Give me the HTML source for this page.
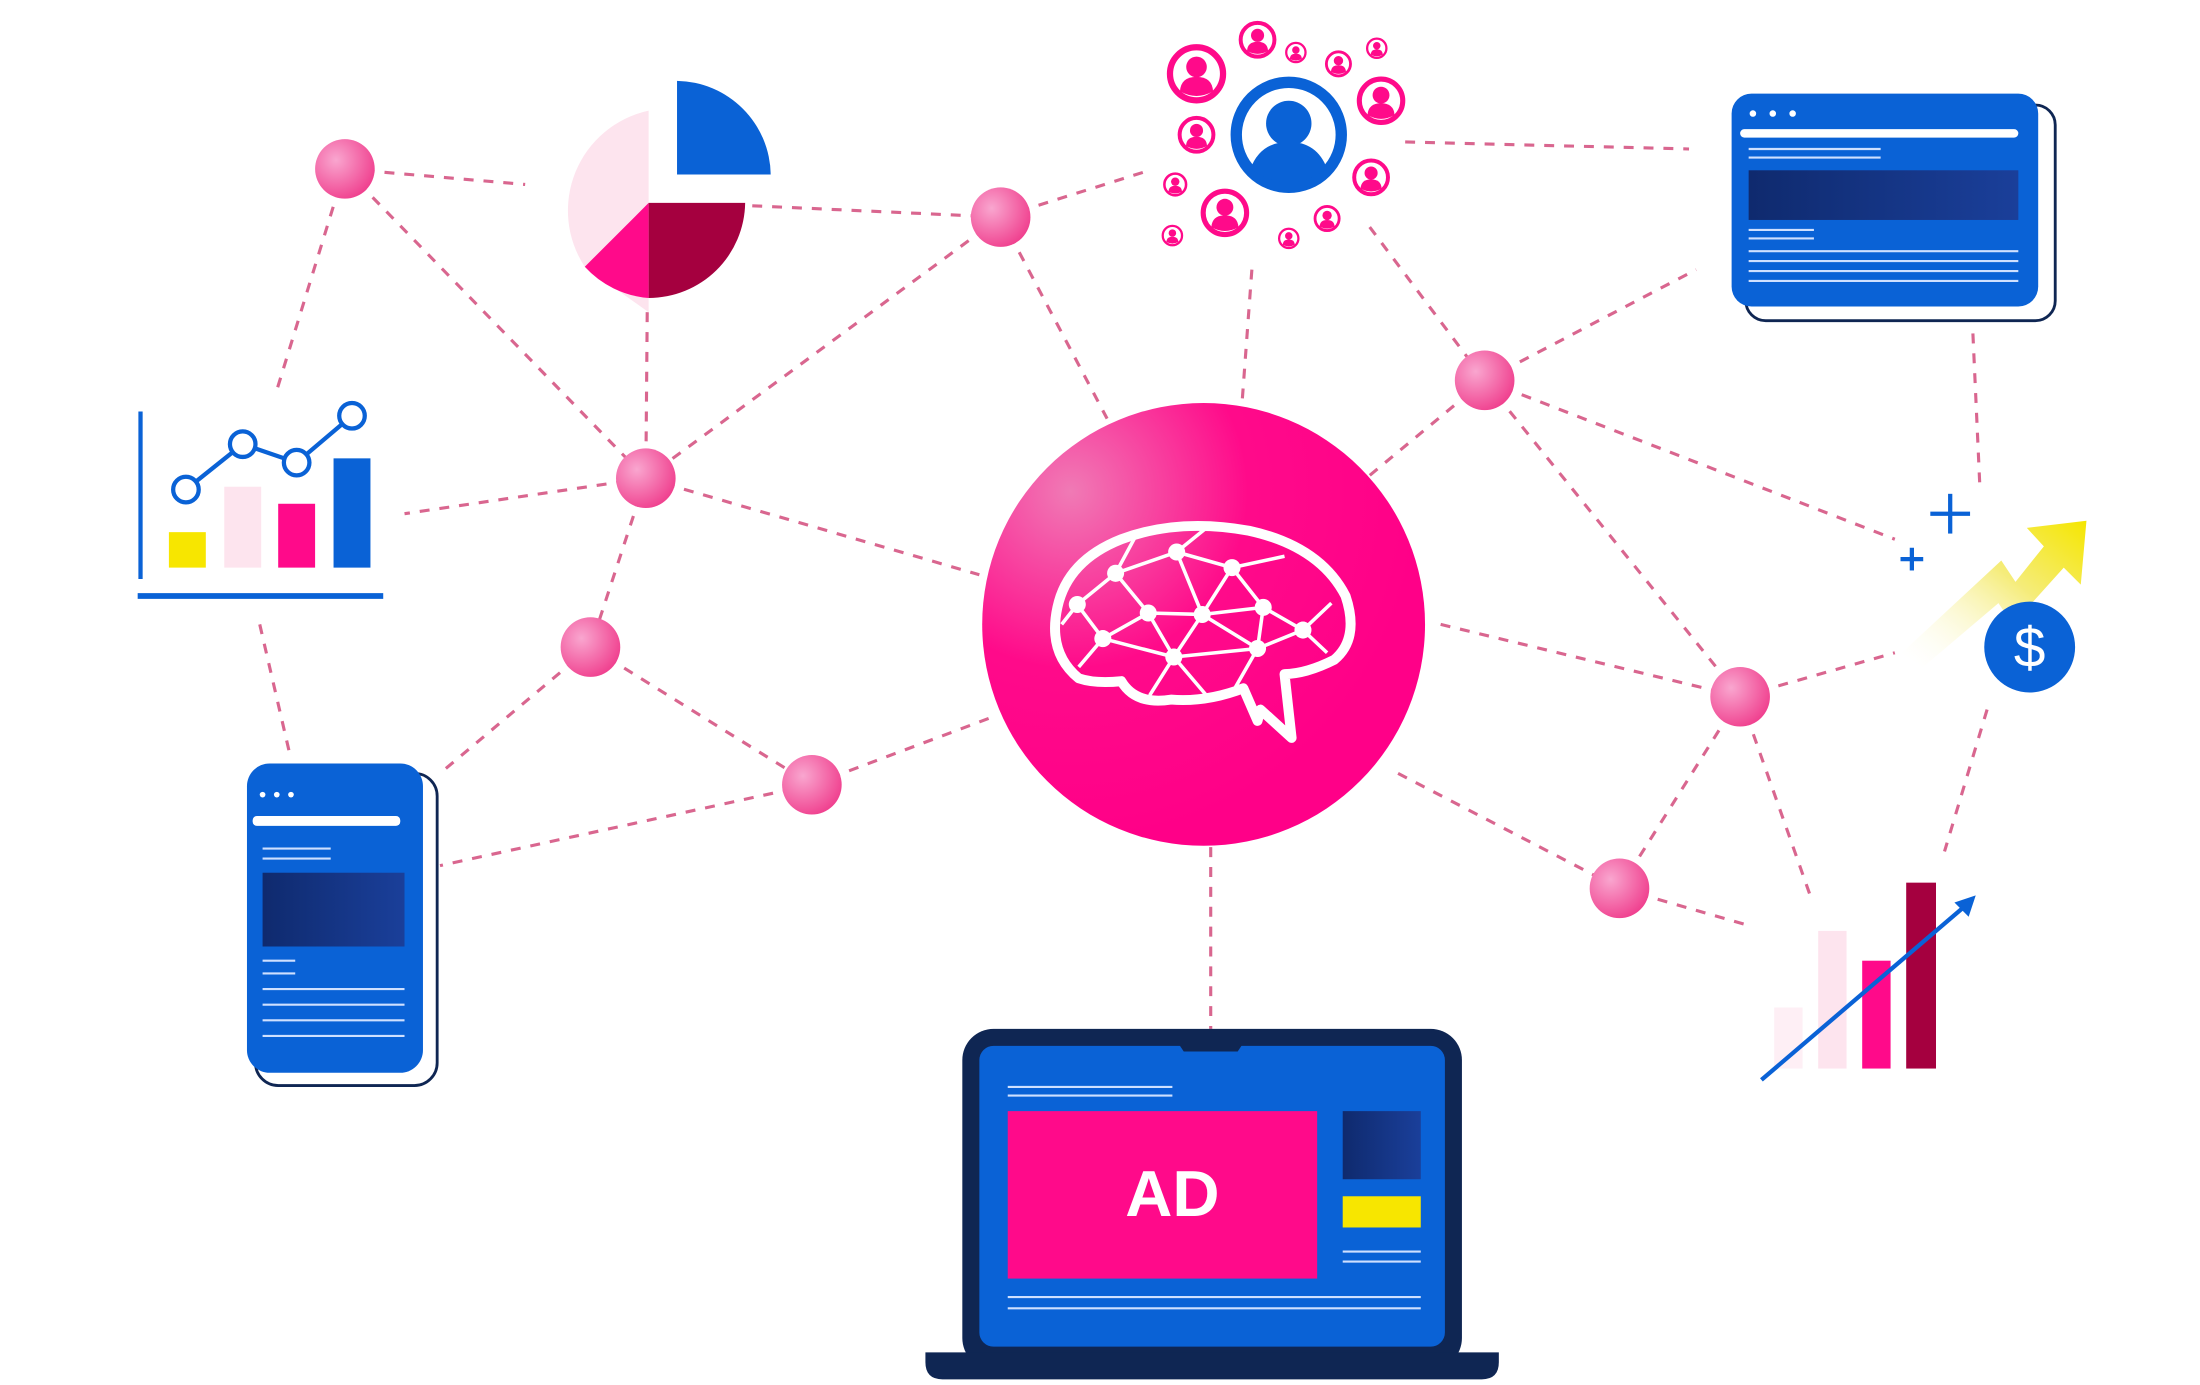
<!DOCTYPE html>
<html><head><meta charset="utf-8"><style>
html,body{margin:0;padding:0;background:#fff;width:2200px;height:1385px;overflow:hidden}
svg{display:block}
</style></head><body>
<svg width="2200" height="1385" viewBox="0 0 1550 976" preserveAspectRatio="none" xmlns="http://www.w3.org/2000/svg">
<defs>
<radialGradient id="ng" cx="0.35" cy="0.35" r="0.7"><stop offset="0" stop-color="#f9a6cf"/><stop offset="1" stop-color="#f0418f"/></radialGradient>
<radialGradient id="cg" cx="0.2" cy="0.2" r="0.8"><stop offset="0" stop-color="#f07ab5"/><stop offset="0.5" stop-color="#ff0a8a"/><stop offset="1" stop-color="#ff0088"/></radialGradient>
<linearGradient id="dk" x1="0" x2="1"><stop offset="0" stop-color="#0f2a6e"/><stop offset="1" stop-color="#1a3f9a"/></linearGradient>
<linearGradient id="ar" x1="0" y1="1" x2="1" y2="0"><stop offset="0" stop-color="#fff" stop-opacity="0"/><stop offset="0.6" stop-color="#f5ec7a"/><stop offset="1" stop-color="#f5e600"/></linearGradient>
<symbol id="pp" viewBox="-10 -10 20 20"><circle r="8.5" fill="#fff" stroke="#ff0a8a" stroke-width="2"/><circle cy="-2.2" r="3.3" fill="#ff0a8a"/><path d="M-5.3 5.6 Q-5 1 0 1 Q5 1 5.3 5.6 Q0 8.6 -5.3 5.6Z" fill="#ff0a8a"/></symbol>
</defs>
<g stroke="#d9668f" stroke-width="2.2" stroke-dasharray="7 7" fill="none">
<line x1="243" y1="119" x2="370" y2="130"/><line x1="243" y1="119" x2="455" y2="337"/><line x1="243" y1="119" x2="195" y2="275"/>
<line x1="456" y1="220" x2="455" y2="337"/><line x1="530" y1="145" x2="705" y2="153"/><line x1="705" y1="153" x2="810" y2="120"/>
<line x1="705" y1="153" x2="455" y2="337"/><line x1="705" y1="153" x2="780" y2="295"/><line x1="455" y1="337" x2="285" y2="362"/>
<line x1="455" y1="337" x2="690" y2="405"/><line x1="455" y1="337" x2="416" y2="456"/><line x1="416" y1="456" x2="310" y2="545"/>
<line x1="416" y1="456" x2="572" y2="553"/><line x1="572" y1="553" x2="700" y2="505"/><line x1="572" y1="553" x2="310" y2="610"/>
<line x1="183" y1="440" x2="205" y2="535"/><line x1="882" y1="190" x2="875" y2="285"/><line x1="965" y1="160" x2="1046" y2="268"/>
<line x1="990" y1="100" x2="1190" y2="105"/><line x1="1046" y1="268" x2="965" y2="335"/><line x1="1046" y1="268" x2="1195" y2="190"/>
<line x1="1046" y1="268" x2="1335" y2="380"/><line x1="1046" y1="268" x2="1226" y2="491"/><line x1="1390" y1="235" x2="1395" y2="345"/>
<line x1="1015" y1="440" x2="1226" y2="491"/><line x1="1226" y1="491" x2="1335" y2="460"/><line x1="1226" y1="491" x2="1141" y2="626"/>
<line x1="1226" y1="491" x2="1275" y2="630"/><line x1="985" y1="545" x2="1141" y2="626"/><line x1="1141" y1="626" x2="1235" y2="653"/>
<line x1="1400" y1="500" x2="1370" y2="600"/><line x1="853" y1="597" x2="853" y2="725"/>
</g>
<g fill="url(#ng)">
<circle cx="243" cy="119" r="21"/><circle cx="705" cy="153" r="21"/><circle cx="455" cy="337" r="21"/><circle cx="416" cy="456" r="21"/>
<circle cx="572" cy="553" r="21"/><circle cx="1046" cy="268" r="21"/><circle cx="1226" cy="491" r="21"/><circle cx="1141" cy="626" r="21"/>
</g>
<!-- center -->
<circle cx="848" cy="440" r="156" fill="url(#cg)"/>
<g stroke="#fff" stroke-width="3" fill="none" stroke-linejoin="round">
<path d="M760 478 Q738 460 745 428 Q752 395 790 380 Q830 365 880 374 Q930 385 948 420 Q958 450 940 465 Q920 475 905 475 L910 520 L888 500 L886 508 L876 485 Q850 495 825 493 Q800 497 790 480 Q772 482 760 478Z" stroke-width="7"/>
<g stroke-width="2.5">
<path d="M829 389 L786 404 L759 426 L777 450 L827 463 L886 457 L918 444 L890 428 L868 400 L829 389 M829 389 L847 433 L868 400 M786 404 L809 432 L847 433 L890 428 M809 432 L777 450 M809 432 L827 463 L847 433 L886 457 L890 428 M759 426 L748 440 M777 450 L760 470 M827 463 L810 490 M827 463 L850 490 M886 457 L870 485 M918 444 L935 460 M786 404 L800 378 M868 400 L905 392 M829 389 L850 372 M918 444 L938 425 M847 433 L868 400"/>
</g>
</g>
<g fill="#fff"><circle cx="829" cy="389" r="6"/><circle cx="786" cy="404" r="6"/><circle cx="868" cy="400" r="6"/><circle cx="759" cy="426" r="6"/><circle cx="809" cy="432" r="6"/><circle cx="847" cy="433" r="6"/><circle cx="890" cy="428" r="6"/><circle cx="918" cy="444" r="6"/><circle cx="777" cy="450" r="6"/><circle cx="827" cy="463" r="6"/><circle cx="886" cy="457" r="6"/></g>
<!-- pie -->
<path d="M457 220 L457 78 A72 72 0 0 0 412 188 Z" fill="#fde4ee"/>
<path d="M457 143 L412 188 A68 68 0 0 0 457 210 Z" fill="#ff0a8a"/>
<path d="M457 143 L457 210 A68 68 0 0 0 525 143 Z" fill="#a5003f"/>
<path d="M477 57 A67 67 0 0 1 543 123 L477 123 Z" fill="#0a62d6"/>
<!-- line chart -->
<g>
<line x1="99" y1="290" x2="99" y2="408" stroke="#0a62d6" stroke-width="3"/>
<line x1="97" y1="420" x2="270" y2="420" stroke="#0a62d6" stroke-width="4"/>
<rect x="119" y="375" width="26" height="25" fill="#f7e600"/><rect x="158" y="343" width="26" height="57" fill="#fde4ee"/>
<rect x="196" y="355" width="26" height="45" fill="#ff0a8a"/><rect x="235" y="323" width="26" height="77" fill="#0a62d6"/>
<polyline points="131,345 171,313 209,326 248,293" stroke="#0a62d6" stroke-width="3" fill="none"/>
<g fill="#fff" stroke="#0a62d6" stroke-width="3"><circle cx="131" cy="345" r="9"/><circle cx="171" cy="313" r="9"/><circle cx="209" cy="326" r="9"/><circle cx="248" cy="293" r="9"/></g>
</g>
<!-- phone -->
<rect x="180" y="545" width="128" height="220" rx="16" fill="#fff" stroke="#0f2653" stroke-width="2"/>
<rect x="174" y="538" width="124" height="218" rx="16" fill="#0a62d6"/>
<g fill="#fff"><circle cx="185" cy="560" r="2"/><circle cx="195" cy="560" r="2"/><circle cx="205" cy="560" r="2"/></g>
<rect x="178" y="575" width="104" height="7" rx="3" fill="#fff"/>
<rect x="185" y="615" width="100" height="52" fill="url(#dk)"/>
<g stroke="#cfe0ff" stroke-width="1.5"><line x1="185" y1="598" x2="233" y2="598"/><line x1="185" y1="605" x2="233" y2="605"/><line x1="185" y1="677" x2="208" y2="677"/><line x1="185" y1="686" x2="208" y2="686"/><line x1="185" y1="697" x2="285" y2="697"/><line x1="185" y1="708" x2="285" y2="708"/><line x1="185" y1="719" x2="285" y2="719"/><line x1="185" y1="730" x2="285" y2="730"/></g>
<!-- browser -->
<rect x="1230" y="74" width="218" height="152" rx="14" fill="#fff" stroke="#0f2653" stroke-width="2"/>
<rect x="1220" y="66" width="216" height="150" rx="14" fill="#0a62d6"/>
<g fill="#fff"><circle cx="1235" cy="80" r="2.3"/><circle cx="1249" cy="80" r="2.3"/><circle cx="1263" cy="80" r="2.3"/></g>
<rect x="1226" y="91" width="196" height="6" rx="3" fill="#fff"/>
<rect x="1232" y="120" width="190" height="35" fill="url(#dk)"/>
<g stroke="#cfe0ff" stroke-width="1.5"><line x1="1232" y1="105" x2="1325" y2="105"/><line x1="1232" y1="111" x2="1325" y2="111"/><line x1="1232" y1="162" x2="1278" y2="162"/><line x1="1232" y1="168" x2="1278" y2="168"/><line x1="1232" y1="177" x2="1422" y2="177"/><line x1="1232" y1="184" x2="1422" y2="184"/><line x1="1232" y1="191" x2="1422" y2="191"/><line x1="1232" y1="198" x2="1422" y2="198"/></g>
<!-- people -->
<circle cx="908" cy="95" r="37" fill="#fff" stroke="#0a62d6" stroke-width="8"/>
<circle cx="908" cy="87" r="16" fill="#0a62d6"/>
<path d="M881 119 Q888 100 908 100 Q928 100 935 119 Q908 138 881 119Z" fill="#0a62d6"/>
<use href="#pp" x="821" y="30" width="44" height="44"/><use href="#pp" x="872" y="14" width="28" height="28"/>
<use href="#pp" x="905" y="29" width="16" height="16"/><use href="#pp" x="933" y="35" width="20" height="20"/>
<use href="#pp" x="962" y="26" width="16" height="16"/><use href="#pp" x="955" y="53" width="36" height="36"/>
<use href="#pp" x="829" y="81" width="28" height="28"/><use href="#pp" x="952" y="111" width="28" height="28"/>
<use href="#pp" x="819" y="121" width="18" height="18"/><use href="#pp" x="845" y="132" width="36" height="36"/>
<use href="#pp" x="900" y="160" width="16" height="16"/><use href="#pp" x="925" y="144" width="20" height="20"/>
<use href="#pp" x="818" y="158" width="16" height="16"/>
<!-- arrow & dollar -->
<path d="M1340 460 L1410 395 L1420 410 L1440 385 L1428 372 L1470 367 L1466 412 L1454 400 L1418 440 L1408 425 L1355 470 Z" fill="url(#ar)"/>
<circle cx="1430" cy="456" r="32" fill="#0a62d6"/>
<text x="1430" y="470" font-family="Liberation Sans, sans-serif" font-size="40" fill="#fff" text-anchor="middle">$</text>
<g stroke="#0a62d6" stroke-width="3"><line x1="1374" y1="348" x2="1374" y2="376"/><line x1="1360" y1="362" x2="1388" y2="362"/><line x1="1347" y1="386" x2="1347" y2="402"/><line x1="1339" y1="394" x2="1355" y2="394"/></g>
<!-- bar chart bottom right -->
<rect x="1250" y="710" width="20" height="43" fill="#fde4ee" opacity="0.6"/>
<rect x="1281" y="656" width="20" height="97" fill="#fde4ee"/>
<rect x="1312" y="677" width="20" height="76" fill="#ff0a8a"/>
<rect x="1343" y="622" width="21" height="131" fill="#a5003f"/>
<line x1="1241" y1="761" x2="1385" y2="638" stroke="#0a62d6" stroke-width="3"/>
<path d="M1392 631 L1377 636 L1387 646Z" fill="#0a62d6"/>
<!-- laptop -->
<rect x="678" y="725" width="352" height="240" rx="22" fill="#0f2653"/>
<rect x="690" y="737" width="328" height="212" rx="10" fill="#0a62d6"/>
<path d="M830 735 L876 735 L872 741 L834 741Z" fill="#0f2653"/>
<path d="M652 953 L1056 953 L1056 960 Q1056 972 1044 972 L664 972 Q652 972 652 960Z" fill="#0f2653"/>
<rect x="710" y="783" width="218" height="118" fill="#ff0a8a"/>
<text x="826" y="857" font-family="Liberation Sans, sans-serif" font-weight="bold" font-size="46" fill="#fff" text-anchor="middle">AD</text>
<rect x="946" y="783" width="55" height="48" fill="url(#dk)"/>
<rect x="946" y="843" width="55" height="22" fill="#f7e600"/>
<g stroke="#cfe0ff" stroke-width="1.5"><line x1="710" y1="766" x2="826" y2="766"/><line x1="710" y1="772" x2="826" y2="772"/><line x1="946" y1="882" x2="1001" y2="882"/><line x1="946" y1="889" x2="1001" y2="889"/><line x1="710" y1="914" x2="1001" y2="914"/><line x1="710" y1="922" x2="1001" y2="922"/></g>
</svg>
</body></html>
